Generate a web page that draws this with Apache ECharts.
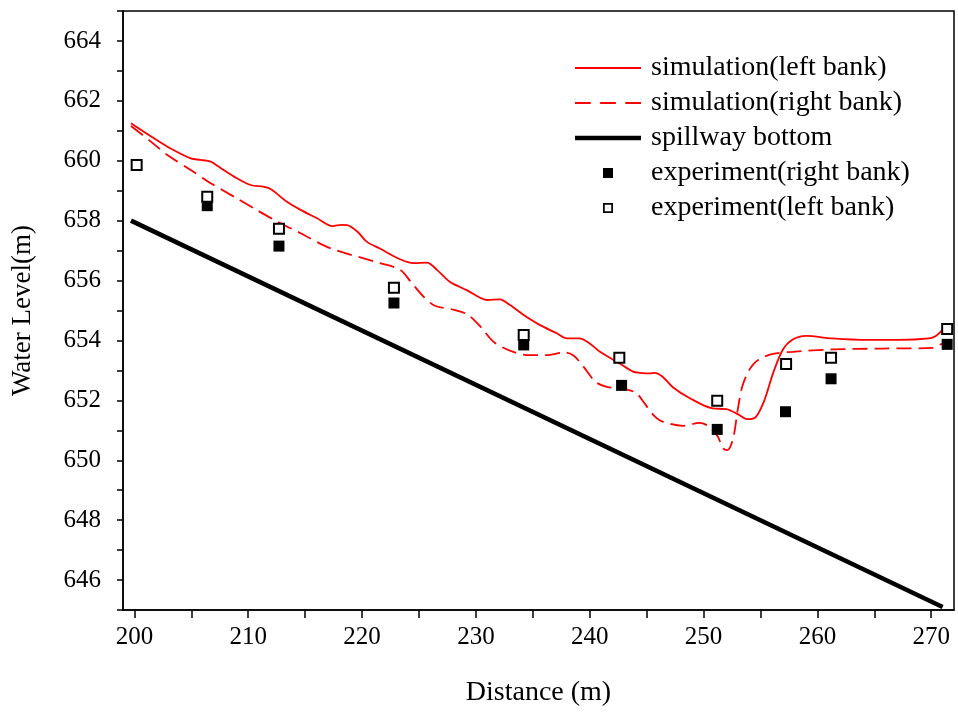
<!DOCTYPE html>
<html>
<head>
<meta charset="utf-8">
<title>Water level along the spillway</title>
<script src="https://cdn.jsdelivr.net/npm/echarts@6/dist/echarts.min.js"></script>
<style>
  html, body { margin: 0; padding: 0; background: #fff; }
  #chart { width: 958px; height: 717px; }
</style>
</head>
<body>
<div id="chart"></div>
<script>
// Simulated water surface, left bank: [distance (m), level (m)]
const simLeftBank = [
  [199.7, 661.25], [201.3, 660.85], [202.9, 660.47], [204.95, 660.08], [205.8, 660.03],
  [206.7, 659.97], [207.6, 659.75], [208.75, 659.47], [210.2, 659.19], [211.4, 659.13],
  [212.0, 659.05], [213.4, 658.63], [214.6, 658.36], [216.05, 658.08], [217.4, 657.82],
  [218.2, 657.86], [218.7, 657.85], [219.6, 657.63], [220.4, 657.3], [221.6, 657.06],
  [223.35, 656.71], [224.5, 656.58], [225.7, 656.6], [226.6, 656.35], [227.7, 655.96],
  [229.2, 655.68], [231.0, 655.35], [232.1, 655.37], [233.0, 655.18], [234.2, 654.85],
  [235.6, 654.52], [237.1, 654.24], [238.0, 654.07], [239.1, 654.07], [240.0, 653.9],
  [240.9, 653.62], [242.6, 653.24], [243.8, 652.96], [244.4, 652.92], [245.3, 652.9],
  [245.7, 652.92], [246.4, 652.79], [247.3, 652.44], [248.8, 652.07], [250.8, 651.73],
  [252.0, 651.71], [253.0, 651.54], [253.9, 651.37], [254.6, 651.45], [255.35, 652.01],
  [256.1, 652.9], [256.95, 653.68], [257.8, 654.02], [259.0, 654.15], [261.3, 654.07],
  [264.3, 654.02], [267.2, 654.02], [269.8, 654.07], [270.4, 654.15], [271.0, 654.35],
  [271.4, 654.44]
];

// Simulated water surface, right bank
const simRightBank = [
  [199.7, 661.16], [201.45, 660.64], [202.9, 660.19], [204.95, 659.69], [206.7, 659.25],
  [208.75, 658.8], [210.5, 658.41], [212.55, 657.97], [214.6, 657.58], [217.2, 657.08],
  [221.6, 656.58], [223.35, 656.36], [224.3, 655.95], [225.4, 655.46], [226.4, 655.16],
  [228.1, 655.02], [229.3, 654.86], [230.4, 654.46], [231.6, 653.94], [233.4, 653.6],
  [234.7, 653.51], [236.2, 653.51], [237.8, 653.6], [238.6, 653.49], [239.4, 653.15],
  [240.5, 652.62], [241.5, 652.45], [243.2, 652.37], [244.1, 652.24], [244.7, 651.96],
  [245.6, 651.51], [246.4, 651.29], [248.2, 651.15], [249.65, 651.25], [250.5, 651.12],
  [251.25, 650.79], [251.7, 650.4], [252.1, 650.34], [252.6, 650.73], [253.0, 651.68],
  [253.4, 652.46], [254.0, 653.01], [254.8, 653.35], [256.1, 653.55], [257.8, 653.62],
  [261.3, 653.7], [265.7, 653.73], [270.1, 653.75], [270.7, 653.85], [271.1, 653.9]
];

// Spillway bottom profile
const spillwayBottom = [[199.7, 658.0], [271.0, 645.1]];

// Measured levels, right bank (filled squares)
const expRightBank = [
  [206.4, 658.5], [212.7, 657.15], [222.8, 655.25], [234.2, 653.85], [242.8, 652.5],
  [251.2, 651.03], [257.2, 651.62], [261.2, 652.72], [271.4, 653.87]
];

// Measured levels, left bank (open squares)
const expLeftBank = [
  [200.2, 659.86], [206.4, 658.8], [212.7, 657.73], [222.8, 655.76], [234.2, 654.18],
  [242.6, 653.42], [251.2, 651.99], [257.25, 653.21], [261.2, 653.42], [271.4, 654.38]
];

// Axis ticks and labels
const xTicks = [200, 205, 210, 215, 220, 225, 230, 235, 240, 245, 250, 255, 260, 265, 270];
const xLabels = [200, 210, 220, 230, 240, 250, 260, 270];
const yTicks = [645, 646, 647, 648, 649, 650, 651, 652, 653, 654, 655, 656, 657, 658, 659, 660, 661, 662, 663, 664, 665];
const yLabels = [646, 648, 650, 652, 654, 656, 658, 660, 662, 664];

const FONT = 'Liberation Serif';

// Legend glyphs: thin bars for the lines, small squares for the measurements
const ICON_SOLID = 'path://M0,0h66v1.8h-66z';
const ICON_DASHED = 'path://M0,0h15v1.8h-15zM24,0h15v1.8h-15zM48,0h15v1.8h-15z';
const ICON_THICK = 'path://M0,0h66v4.5h-66z';
const ICON_FILLED_SQUARE = 'path://M0,0h8v8h-8z';
const ICON_OPEN_SQUARE = 'path://M0,0h8v8h-8zM1.4,1.4v5.2h5.2v-5.2z';

const chart = echarts.init(document.getElementById('chart'), null, { renderer: 'canvas' });

chart.setOption({
  backgroundColor: '#fff',
  animation: false,
  grid: {
    left: 123, right: 4, top: 11, bottom: 107,
    show: true, borderColor: '#000', borderWidth: 1.5, backgroundColor: 'transparent'
  },
  legend: {
    orient: 'vertical',
    left: 570, top: 49,
    itemWidth: 66, itemHeight: 10, itemGap: 7,
    textStyle: { fontFamily: FONT, fontSize: 28, color: '#000', padding: [0, 0, 0, 5] },
    data: [
      { name: 'simulation(left bank)', icon: ICON_SOLID, itemStyle: { color: '#ff0000' } },
      { name: 'simulation(right bank)', icon: ICON_DASHED, itemStyle: { color: '#ff0000' } },
      { name: 'spillway bottom', icon: ICON_THICK, itemStyle: { color: '#000' } },
      { name: 'experiment(right bank)', icon: ICON_FILLED_SQUARE, itemStyle: { color: '#000', borderWidth: 0 } },
      { name: 'experiment(left bank)', icon: ICON_OPEN_SQUARE, itemStyle: { color: '#000', borderWidth: 0 } }
    ]
  },
  xAxis: {
    type: 'value', min: 199, max: 272,
    name: 'Distance (m)', nameLocation: 'middle', nameGap: 69,
    nameTextStyle: { fontFamily: FONT, fontSize: 28, color: '#000' },
    axisLine: { lineStyle: { color: '#000', width: 1.5 } },
    axisTick: { show: true, inside: false, length: 8, customValues: xTicks, lineStyle: { color: '#000', width: 1.5 } },
    axisLabel: { customValues: xLabels, margin: 15, fontFamily: FONT, fontSize: 25, color: '#000' },
    splitLine: { show: false }
  },
  yAxis: {
    type: 'value', min: 645, max: 665,
    name: 'Water Level(m)', nameLocation: 'middle', nameGap: 87, nameRotate: 90,
    nameTextStyle: { fontFamily: FONT, fontSize: 27, color: '#000' },
    axisLine: { lineStyle: { color: '#000', width: 1.5 } },
    axisTick: { show: true, inside: false, length: 6, customValues: yTicks, lineStyle: { color: '#000', width: 1.5 } },
    axisLabel: { customValues: yLabels, margin: 22, fontFamily: FONT, fontSize: 25, color: '#000' },
    splitLine: { show: false }
  },
  series: [
    {
      name: 'simulation(left bank)', type: 'line', data: simLeftBank,
      smooth: 0.3, symbol: 'none', z: 3,
      lineStyle: { color: '#ff0000', width: 1.8 }, itemStyle: { color: '#ff0000' }
    },
    {
      name: 'simulation(right bank)', type: 'line', data: simRightBank,
      smooth: 0.3, symbol: 'none', z: 3,
      lineStyle: { color: '#ff0000', width: 1.8, type: [15, 7] }, itemStyle: { color: '#ff0000' }
    },
    {
      name: 'spillway bottom', type: 'line', data: spillwayBottom,
      symbol: 'none', z: 3,
      lineStyle: { color: '#000', width: 4.5 }, itemStyle: { color: '#000' }
    },
    {
      name: 'experiment(right bank)', type: 'scatter', data: expRightBank,
      symbol: 'rect', symbolSize: 11, z: 4,
      itemStyle: { color: '#000', borderColor: '#000', borderWidth: 0, opacity: 1 }
    },
    {
      name: 'experiment(left bank)', type: 'scatter', data: expLeftBank,
      symbol: 'rect', symbolSize: 10, z: 4,
      itemStyle: { color: '#fff', borderColor: '#000', borderWidth: 2, opacity: 1 }
    }
  ]
});
</script>
</body>
</html>
